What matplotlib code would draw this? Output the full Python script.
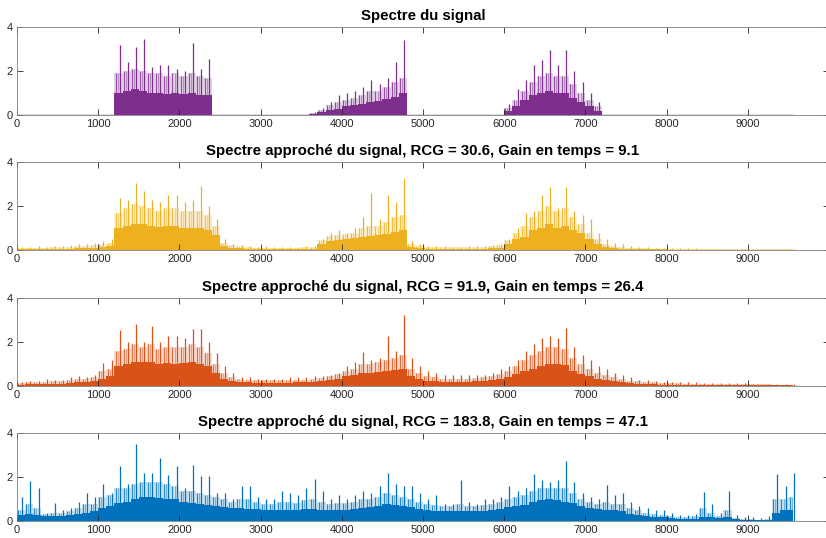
import matplotlib.pyplot as plt
import numpy as np

plt.rcParams['font.family'] = ['Liberation Sans', 'DejaVu Sans']

# spectrum summarised in 100 Hz bins:
# peak = tallest spike, upper = top of the frequent spikes, level = dense body
bin_start = np.arange(0, 9600, 100)
f_end = 9560

peak_signal = [
    0, 0, 0, 0, 0, 0, 0, 0, 0, 0,
    0, 0, 3.2, 2.4, 3.1, 3.45, 2.2, 2.3, 2.3, 2.1,
    2.0, 3.3, 2.1, 2.55, 0, 0, 0, 0, 0, 0,
    0, 0, 0, 0, 0, 0, 0.15, 0.35, 0.6, 0.9,
    1.0, 1.1, 1.3, 1.6, 1.4, 1.7, 2.4, 3.4, 0, 0,
    0, 0, 0, 0, 0, 0, 0, 0, 0, 0,
    0.5, 1.2, 1.6, 2.3, 2.5, 2.95, 2.3, 2.95, 2.0, 1.5,
    1.0, 0.6, 0, 0, 0, 0, 0, 0, 0, 0,
    0, 0, 0, 0, 0, 0, 0, 0, 0, 0,
    0, 0, 0, 0, 0, 0,
]
upper_signal = [
    0, 0, 0, 0, 0, 0, 0, 0, 0, 0,
    0, 0, 1.9, 2.0, 2.1, 2.0, 1.9, 1.9, 1.8, 1.9,
    1.8, 1.9, 1.8, 1.7, 0, 0, 0, 0, 0, 0,
    0, 0, 0, 0, 0, 0, 0.1, 0.25, 0.45, 0.6,
    0.7, 0.8, 0.9, 1.1, 1.1, 1.3, 1.5, 1.7, 0, 0,
    0, 0, 0, 0, 0, 0, 0, 0, 0, 0,
    0.35, 0.7, 1.1, 1.5, 1.8, 1.9, 1.8, 1.8, 1.4, 1.0,
    0.7, 0.4, 0, 0, 0, 0, 0, 0, 0, 0,
    0, 0, 0, 0, 0, 0, 0, 0, 0, 0,
    0, 0, 0, 0, 0, 0,
]
level_signal = [
    0, 0, 0, 0, 0, 0, 0, 0, 0, 0,
    0, 0, 1.0, 1.1, 1.2, 1.1, 1.0, 1.0, 0.95, 1.0,
    0.95, 1.0, 0.9, 0.9, 0, 0, 0, 0, 0, 0,
    0, 0, 0, 0, 0, 0, 0.05, 0.15, 0.25, 0.3,
    0.4, 0.45, 0.5, 0.6, 0.65, 0.75, 0.85, 1.0, 0, 0,
    0, 0, 0, 0, 0, 0, 0, 0, 0, 0,
    0.2, 0.4, 0.7, 0.9, 1.0, 1.1, 1.0, 1.0, 0.8, 0.6,
    0.4, 0.2, 0, 0, 0, 0, 0, 0, 0, 0,
    0, 0, 0, 0, 0, 0, 0, 0, 0, 0,
    0, 0, 0, 0, 0, 0,
]

peak_rcg30 = [
    0.15, 0.15, 0.2, 0.15, 0.2, 0.2, 0.25, 0.3, 0.3, 0.35,
    0.4, 0.5, 2.36, 2.3, 3.05, 2.7, 2.3, 2.2, 2.5, 2.5,
    2.2, 2.3, 2.9, 2.0, 1.4, 0.5, 0.3, 0.25, 0.2, 0.15,
    0.2, 0.15, 0.15, 0.15, 0.15, 0.2, 0.2, 0.5, 0.8, 0.9,
    0.8, 1.0, 1.5, 2.6, 1.4, 2.5, 2.2, 3.27, 0.4, 0.3,
    0.2, 0.2, 0.2, 0.15, 0.15, 0.2, 0.2, 0.2, 0.25, 0.3,
    0.5, 1.0, 1.7, 1.8, 2.5, 2.86, 1.9, 2.86, 1.8, 1.6,
    1.4, 0.8, 0.5, 0.35, 0.3, 0.2, 0.15, 0.15, 0.12, 0.1,
    0.1, 0.1, 0.1, 0.1, 0.08, 0.08, 0.08, 0.08, 0.08, 0.08,
    0.06, 0.06, 0.06, 0.06, 0.05, 0.05,
]
upper_rcg30 = [
    0.1, 0.1, 0.12, 0.12, 0.13, 0.14, 0.15, 0.18, 0.2, 0.22,
    0.28, 0.35, 1.7, 1.9, 2.1, 2.0, 1.9, 1.8, 1.9, 1.9,
    1.8, 1.8, 1.8, 1.6, 1.1, 0.35, 0.22, 0.18, 0.14, 0.12,
    0.12, 0.12, 0.1, 0.1, 0.1, 0.14, 0.15, 0.45, 0.65, 0.7,
    0.75, 0.8, 1.0, 1.1, 1.1, 1.3, 1.5, 1.6, 0.3, 0.2,
    0.15, 0.15, 0.13, 0.13, 0.13, 0.14, 0.15, 0.15, 0.18, 0.22,
    0.45, 0.8, 1.1, 1.5, 1.8, 2.0, 1.8, 1.9, 1.5, 1.2,
    0.8, 0.5, 0.3, 0.2, 0.15, 0.12, 0.1, 0.1, 0.08, 0.08,
    0.07, 0.07, 0.07, 0.07, 0.07, 0.07, 0.07, 0.07, 0.07, 0.07,
    0.06, 0.06, 0.06, 0.06, 0.06, 0.06,
]
level_rcg30 = [
    0.05, 0.05, 0.06, 0.06, 0.07, 0.07, 0.08, 0.1, 0.1, 0.12,
    0.15, 0.2, 1.0, 1.1, 1.2, 1.2, 1.1, 1.05, 1.1, 1.1,
    1.0, 1.0, 1.0, 0.9, 0.7, 0.2, 0.12, 0.1, 0.08, 0.07,
    0.07, 0.07, 0.06, 0.06, 0.06, 0.08, 0.08, 0.3, 0.4, 0.45,
    0.5, 0.55, 0.6, 0.65, 0.7, 0.75, 0.85, 0.9, 0.15, 0.1,
    0.08, 0.08, 0.07, 0.07, 0.07, 0.08, 0.08, 0.08, 0.1, 0.12,
    0.3, 0.5, 0.6, 0.9, 1.0, 1.2, 1.0, 1.1, 0.9, 0.8,
    0.5, 0.3, 0.15, 0.1, 0.08, 0.06, 0.05, 0.05, 0.04, 0.04,
    0.03, 0.03, 0.03, 0.03, 0.03, 0.03, 0.03, 0.03, 0.03, 0.03,
    0.03, 0.03, 0.03, 0.03, 0.03, 0.03,
]

peak_rcg92 = [
    0.2, 0.25, 0.25, 0.35, 0.3, 0.3, 0.4, 0.45, 0.4, 0.5,
    1.06, 1.2, 2.55, 2.0, 2.85, 2.0, 2.75, 2.0, 2.3, 2.3,
    2.2, 2.6, 2.6, 2.0, 1.5, 0.9, 0.6, 0.4, 0.4, 0.35,
    0.35, 0.35, 0.35, 0.4, 0.4, 0.4, 0.45, 0.45, 0.5, 0.6,
    0.9, 1.1, 1.55, 1.2, 1.3, 2.3, 1.6, 3.25, 1.3, 0.9,
    0.7, 0.6, 0.5, 0.5, 0.5, 0.5, 0.5, 0.5, 0.6, 0.8,
    0.9, 1.2, 1.6, 1.9, 2.2, 2.3, 2.2, 2.64, 1.8, 1.4,
    1.2, 0.9, 0.8, 0.6, 0.5, 0.4, 0.3, 0.3, 0.25, 0.2,
    0.2, 0.2, 0.18, 0.18, 0.16, 0.16, 0.15, 0.15, 0.14, 0.14,
    0.12, 0.12, 0.12, 0.1, 0.1, 0.1,
]
upper_rcg92 = [
    0.15, 0.18, 0.18, 0.2, 0.22, 0.22, 0.28, 0.32, 0.35, 0.4,
    0.7, 0.8, 1.6, 1.7, 1.9, 1.8, 1.9, 1.7, 1.8, 1.8,
    1.8, 1.9, 1.8, 1.5, 1.0, 0.6, 0.4, 0.32, 0.3, 0.28,
    0.27, 0.27, 0.27, 0.28, 0.3, 0.3, 0.33, 0.38, 0.45, 0.55,
    0.7, 0.8, 1.0, 1.0, 1.1, 1.2, 1.3, 1.4, 0.8, 0.6,
    0.45, 0.4, 0.35, 0.35, 0.35, 0.35, 0.38, 0.4, 0.45, 0.55,
    0.7, 0.9, 1.2, 1.4, 1.6, 1.8, 1.8, 1.7, 1.3, 1.0,
    0.8, 0.6, 0.5, 0.4, 0.32, 0.26, 0.22, 0.2, 0.18, 0.15,
    0.14, 0.13, 0.12, 0.12, 0.11, 0.11, 0.1, 0.1, 0.1, 0.1,
    0.09, 0.09, 0.09, 0.08, 0.08, 0.08,
]
level_rcg92 = [
    0.08, 0.1, 0.1, 0.1, 0.12, 0.12, 0.15, 0.18, 0.2, 0.22,
    0.35, 0.45, 0.9, 1.0, 1.1, 1.1, 1.1, 1.0, 1.05, 1.0,
    1.05, 1.1, 1.0, 0.9, 0.6, 0.35, 0.25, 0.2, 0.18, 0.17,
    0.16, 0.16, 0.16, 0.17, 0.18, 0.18, 0.2, 0.25, 0.3, 0.35,
    0.45, 0.5, 0.6, 0.6, 0.65, 0.7, 0.75, 0.8, 0.45, 0.35,
    0.25, 0.22, 0.2, 0.2, 0.2, 0.2, 0.22, 0.25, 0.28, 0.32,
    0.4, 0.55, 0.7, 0.8, 0.9, 1.0, 1.0, 0.95, 0.7, 0.55,
    0.45, 0.35, 0.28, 0.22, 0.18, 0.15, 0.12, 0.1, 0.1, 0.08,
    0.07, 0.07, 0.06, 0.06, 0.06, 0.06, 0.05, 0.05, 0.05, 0.05,
    0.05, 0.05, 0.05, 0.05, 0.05, 0.05,
]

peak_rcg184 = [
    1.1, 1.85, 1.5, 0.4, 0.85, 0.5, 0.6, 0.9, 1.3, 1.1,
    1.7, 1.3, 2.5, 1.7, 3.5, 2.2, 2.2, 2.9, 2.1, 2.5,
    1.5, 2.55, 2.07, 2.05, 1.3, 1.3, 1.0, 1.6, 1.6, 1.1,
    1.0, 1.0, 1.4, 1.3, 1.2, 1.5, 1.92, 1.4, 1.0, 1.2,
    1.0, 1.2, 1.4, 1.3, 1.6, 2.2, 1.7, 1.6, 1.6, 1.3,
    1.0, 1.2, 0.8, 0.8, 1.9, 0.9, 0.8, 1.0, 1.0, 1.1,
    1.6, 1.4, 1.5, 2.15, 1.9, 1.8, 1.9, 2.75, 1.8, 1.3,
    1.1, 1.0, 1.65, 1.2, 1.3, 0.9, 0.7, 0.6, 0.5, 0.5,
    0.4, 0.3, 0.3, 0.35, 1.35, 0.8, 0.4, 1.4, 0.3, 0.2,
    0.2, 0.15, 0.25, 2.15, 1.6, 2.2,
]
upper_rcg184 = [
    0.5, 0.8, 0.6, 0.35, 0.4, 0.4, 0.45, 0.6, 0.8, 0.8,
    1.1, 1.2, 1.5, 1.5, 1.7, 1.8, 1.8, 1.8, 1.7, 1.6,
    1.4, 1.4, 1.3, 1.2, 1.1, 1.0, 0.9, 1.0, 1.0, 0.9,
    0.8, 0.8, 0.9, 0.9, 0.85, 0.95, 1.0, 0.9, 0.8, 0.85,
    0.85, 0.9, 1.0, 1.0, 1.1, 1.3, 1.2, 1.1, 1.0, 0.9,
    0.8, 0.75, 0.7, 0.7, 0.8, 0.7, 0.7, 0.75, 0.8, 0.9,
    1.0, 1.1, 1.2, 1.4, 1.5, 1.5, 1.5, 1.5, 1.3, 1.0,
    0.9, 0.8, 0.9, 0.8, 0.8, 0.6, 0.5, 0.4, 0.35, 0.3,
    0.25, 0.2, 0.2, 0.22, 0.6, 0.4, 0.25, 0.5, 0.15, 0.1,
    0.1, 0.08, 0.1, 1.0, 1.0, 1.1,
]
level_rcg184 = [
    0.3, 0.35, 0.3, 0.25, 0.25, 0.25, 0.3, 0.35, 0.4, 0.45,
    0.6, 0.7, 0.85, 0.9, 1.0, 1.1, 1.1, 1.05, 1.0, 1.0,
    0.9, 0.85, 0.8, 0.75, 0.7, 0.65, 0.6, 0.6, 0.55, 0.55,
    0.5, 0.5, 0.5, 0.5, 0.5, 0.55, 0.55, 0.5, 0.5, 0.5,
    0.5, 0.55, 0.6, 0.65, 0.7, 0.8, 0.75, 0.7, 0.65, 0.55,
    0.5, 0.45, 0.45, 0.45, 0.45, 0.45, 0.45, 0.45, 0.5, 0.55,
    0.65, 0.7, 0.75, 0.9, 0.95, 1.0, 0.95, 0.9, 0.85, 0.7,
    0.6, 0.55, 0.5, 0.5, 0.45, 0.35, 0.3, 0.25, 0.2, 0.2,
    0.15, 0.12, 0.12, 0.12, 0.2, 0.2, 0.15, 0.2, 0.1, 0.06,
    0.05, 0.05, 0.05, 0.4, 0.5, 0.5,
]

titles = [
    "Spectre du signal",
    "Spectre approché du signal, RCG = 30.6, Gain en temps = 9.1",
    "Spectre approché du signal, RCG = 91.9, Gain en temps = 26.4",
    "Spectre approché du signal, RCG = 183.8, Gain en temps = 47.1",
]
peaks = [peak_signal, peak_rcg30, peak_rcg92, peak_rcg184]
uppers = [upper_signal, upper_rcg30, upper_rcg92, upper_rcg184]
levels = [level_signal, level_rcg30, level_rcg92, level_rcg184]
colors = ['#7E2F8E', '#EDB120', '#D95319', '#0072BD']

fig = plt.figure(figsize=(8.26, 5.38), dpi=100)
edges = np.append(bin_start, f_end)
bottoms = [0.7857, 0.5348, 0.282, 0.031]

for title, pk, up, lv, c, b in zip(titles, peaks, uppers, levels, colors, bottoms):
    ax = fig.add_axes([17 / 826, b, 812 / 826, 88 / 538])
    # faint halo, dense body, frequent spikes, then the tallest spike of each bin
    ax.stairs(up, edges, fill=True, color=c, alpha=0.22, lw=0)
    ax.stairs(lv, edges, fill=True, color=c, lw=0)
    ax.vlines(bin_start + 15, 0, up, color=c, lw=0.8, alpha=0.8)
    ax.vlines(bin_start + 40, 0, up, color=c, lw=0.6, alpha=0.5)
    ax.vlines(bin_start + 65, 0, pk, color=c, lw=0.9)
    ax.hlines(0, edges[0], edges[-1], color=c, lw=1)
    ax.set_xlim(0, 10000)
    ax.set_ylim(0, 4)
    ax.set_xticks(np.arange(0, 10000, 1000))
    ax.set_yticks([0, 2, 4])
    ax.tick_params(direction='in', top=True, right=True, length=4, width=0.6,
                   colors='#262626', labelsize=8, pad=3)
    for s in ax.spines.values():
        s.set_color('#7f7f7f')
        s.set_linewidth(0.6)
    ax.set_title(title, fontsize=10.8, fontweight='bold', pad=5)

fig.savefig('out.png', dpi=100)
